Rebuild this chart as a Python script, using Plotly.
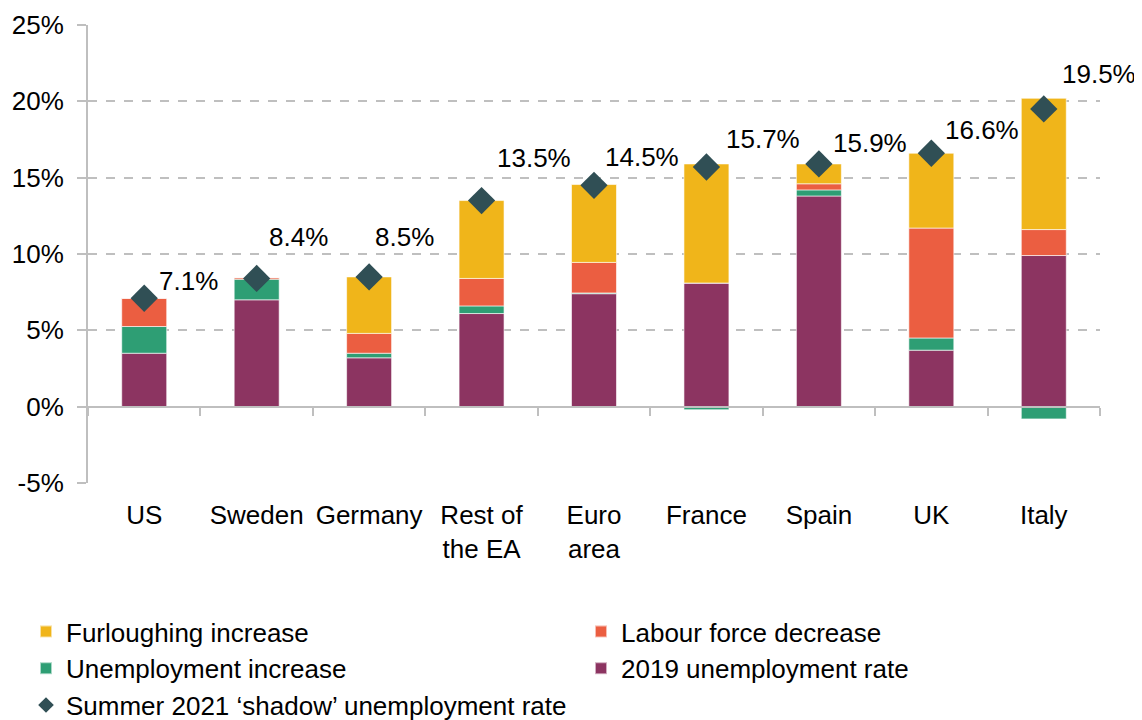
import plotly.graph_objects as go

# Shadow unemployment rate, summer 2021 (percent)
countries = ["US", "Sweden", "Germany", "Rest of<br>the EA", "Euro<br>area",
             "France", "Spain", "UK", "Italy"]
rate_2019 = [3.5, 7.0, 3.2, 6.1, 7.4, 8.1, 13.8, 3.7, 9.9]
unemp_increase = [1.75, 1.35, 0.3, 0.5, 0.05, -0.2, 0.4, 0.8, -0.8]
labour_decrease = [1.85, 0.1, 1.3, 1.8, 2.0, 0.0, 0.4, 7.2, 1.7]
furlough_increase = [0.0, 0.0, 3.7, 5.1, 5.1, 7.8, 1.3, 4.9, 8.6]
shadow_rate = [7.1, 8.4, 8.5, 13.5, 14.5, 15.7, 15.9, 16.6, 19.5]
y_ticks = [-5, 0, 5, 10, 15, 20, 25]

# label offsets in px (style only)
label_dx = [44, 42, 35, 52, 48, 57, 51, 51, 55]
label_dy = [17, 41, 40, 43, 28, 28, 21, 23, 35]

FONT = "Arial, Liberation Sans, sans-serif"
GRID = "#bfbfbf"

# page body has an 8px margin, so the figure is sized to fit the window
W, H = 1134, 712
L, R, T, B = 80, 42, 17, 237
PW = W - L - R

fig = go.Figure()
# stacking order bottom -> top; legend column assignment and rank
series = [
    ("2019 unemployment rate", rate_2019, "#8C3461", "legend2", 2),
    ("Unemployment increase", unemp_increase, "#2E9E74", "legend", 2),
    ("Labour force decrease", labour_decrease, "#EB5E41", "legend2", 1),
    ("Furloughing increase", furlough_increase, "#F0B51A", "legend", 1),
]
for name, vals, color, leg, rank in series:
    fig.add_trace(go.Bar(
        x=countries, y=vals, name=name, legend=leg, legendrank=rank,
        marker=dict(color=color, line=dict(color="rgba(255,255,255,0.6)", width=1)),
        width=0.4,
    ))

fig.add_trace(go.Scatter(
    x=countries, y=shadow_rate, mode="markers",
    name="Summer 2021 \u2018shadow\u2019 unemployment rate", legend="legend", legendrank=3,
    marker=dict(symbol="diamond", size=21, color="#304F55"),
))

for c, v, dx, dy in zip(countries, shadow_rate, label_dx, label_dy):
    fig.add_annotation(x=c, y=v, text=f"{v:.1f}%", showarrow=False,
                       xshift=dx, yshift=dy, font=dict(size=26, color="black"))

legend_style = dict(orientation="v", xanchor="left", yanchor="top",
                    yref="container", y=1 - 600 / H,
                    tracegroupgap=0, itemsizing="constant",
                    font=dict(size=26), bgcolor="rgba(0,0,0,0)")

fig.update_layout(
    barmode="relative",
    width=W, height=H,
    margin=dict(l=L, r=R, t=T, b=B, autoexpand=False),
    plot_bgcolor="white", paper_bgcolor="white",
    font=dict(family=FONT, size=26, color="black"),
    xaxis=dict(showline=False, ticks="", showgrid=False, automargin=False,
               ticklabelstandoff=14, range=[-0.5, 8.5]),
    xaxis2=dict(overlaying="x", anchor="free", position=1/6, range=[-0.5, 8.5],
                showline=True, linecolor=GRID, linewidth=2, automargin=False,
                ticks="outside", ticklen=8, tickcolor=GRID, tickwidth=2,
                tickvals=[i - 0.5 for i in range(10)],
                showticklabels=False, showgrid=False, zeroline=False),
    yaxis=dict(range=[-5, 25], tickvals=y_ticks, automargin=False,
               ticktext=[f"{t}%" for t in y_ticks],
               showgrid=True, gridcolor=GRID, griddash="dash", gridwidth=2,
               zeroline=False, ticklabelstandoff=8,
               showline=True, linecolor=GRID, linewidth=2,
               ticks="outside", ticklen=9, tickcolor=GRID, tickwidth=2),
    legend=dict(x=(18 - L) / PW, **legend_style),
    legend2=dict(x=(573 - L) / PW, **legend_style),
    showlegend=True,
)

# dummy trace so xaxis2 is drawn
fig.add_trace(go.Scatter(x=[0], y=[None], xaxis="x2", showlegend=False,
                         hoverinfo="skip"))

fig.write_html("out.html")
